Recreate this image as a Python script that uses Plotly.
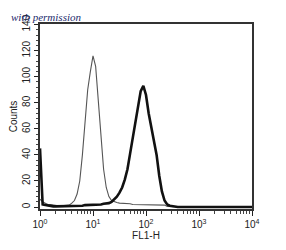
import plotly.graph_objects as go

# bin positions in decades (log10 of FL1-H)
exponents = [0.00, 0.05, 0.10, 0.15, 0.20, 0.25, 0.30, 0.35, 0.40, 0.45,
             0.50, 0.55, 0.60, 0.65, 0.70, 0.75, 0.80, 0.85, 0.90, 0.95,
             1.00, 1.05, 1.10, 1.15, 1.20, 1.25, 1.30, 1.35, 1.40, 1.45,
             1.50, 1.55, 1.60, 1.65, 1.70, 1.75, 1.80, 1.85, 1.90, 1.95,
             2.00, 2.05, 2.10, 2.15, 2.20, 2.25, 2.30, 2.35, 2.40, 2.45,
             2.50, 2.55, 2.60, 2.65, 2.70, 2.75, 2.80, 2.85, 2.90, 2.95,
             3.00, 3.05, 3.10, 3.15, 3.20, 3.25, 3.30, 3.35, 3.40, 3.45,
             3.50, 3.55, 3.60, 3.65, 3.70, 3.75, 3.80, 3.85, 3.90, 3.95,
             4.00]

control_counts = [6, 4, 3, 2, 2, 1.5, 1.5, 1, 1, 1,
                  1, 1.5, 3, 5, 10, 20, 40, 62, 90, 104,
                  116, 108, 82, 52, 29, 15, 8, 5, 4, 3.5,
                  3, 3, 3, 2.5, 2.5, 2, 2, 2, 2, 2,
                  2, 2, 2, 1.5, 1.5, 1.5, 1.5, 1.5, 0.5, 0.3,
                  0.3, 0.2, 0.2, 0.2, 0.2, 0.2, 0.2, 0.2, 0.2, 0.2,
                  0.2, 0.2, 0.2, 0.2, 0.2, 0.2, 0.2, 0.2, 0.2, 0.2,
                  0.2, 0.2, 0.2, 0.2, 0.2, 0.2, 0.2, 0.2, 0.2, 0.2,
                  0.2]

stained_counts = [45, 2, 1.5, 1, 1, 0.5, 0.5, 0.5, 0.5, 0.5,
                  0.5, 1, 1, 1, 1, 1, 1, 1.5, 1.5, 1.5,
                  1.5, 2, 2, 2, 2.5, 2.5, 3, 4, 6, 8,
                  11, 15, 21, 29, 41, 53, 66, 79, 89, 93,
                  86, 72, 62, 52, 40, 24, 12, 5, 2, 1,
                  0.5, 0, 0, 0, 0, 0, 0, 0, 0, 0,
                  0, 0, 0, 0, 0, 0, 0, 0, 0, 0,
                  0, 0, 0, 0, 0, 0, 0, 0, 0, 0,
                  0]

x_tick_vals = [1, 10, 100, 1000, 10000]
x_tick_text = ["10<sup>0</sup>", "10<sup>1</sup>", "10<sup>2</sup>",
               "10<sup>3</sup>", "10<sup>4</sup>"]
y_tick_vals = [0, 20, 40, 60, 80, 100, 120, 140]

fl1 = [10 ** e for e in exponents]

fig = go.Figure()
fig.add_trace(go.Scatter(x=fl1, y=control_counts, mode="lines",
                         line=dict(color="#555555", width=1.1),
                         showlegend=False, hoverinfo="skip"))
fig.add_trace(go.Scatter(x=fl1, y=stained_counts, mode="lines",
                         line=dict(color="#111111", width=2.6),
                         showlegend=False, hoverinfo="skip"))

axis_font = dict(family="Liberation Sans, Arial, sans-serif", size=10, color="#222222")

fig.update_xaxes(type="log", range=[0, 4],
                 tickvals=x_tick_vals, ticktext=x_tick_text,
                 ticks="outside", ticklen=5, tickwidth=1, tickcolor="#222222",
                 minor=dict(ticks="outside", ticklen=3, tickcolor="#444444",
                            dtick="D1", showgrid=False),
                 showline=True, linecolor="#333333", linewidth=1.5, mirror=True,
                 showgrid=False, zeroline=False, tickfont=axis_font,
                 title=dict(text="FL1-H", font=axis_font, standoff=1))
fig.update_yaxes(range=[-1.5, 140.5], tickvals=y_tick_vals,
                 ticks="outside", ticklen=4, tickwidth=1, tickcolor="#222222",
                 minor=dict(ticks="outside", ticklen=2, tickcolor="#444444",
                            dtick=4, showgrid=False),
                 tickangle=-90,
                 showline=True, linecolor="#333333", linewidth=1.5, mirror=True,
                 showgrid=False, zeroline=False, tickfont=axis_font,
                 title=dict(text="Counts", font=axis_font, standoff=2))

fig.add_annotation(text="with permission", xref="paper", yref="paper",
                   x=-0.145, y=1.04, xanchor="left", yanchor="middle",
                   showarrow=False,
                   font=dict(family="Liberation Serif, serif", size=11,
                             color="#1c2b6e", style="italic"))

fig.update_layout(width=286, height=250,
                  margin=dict(l=40, r=34, t=24, b=41),
                  paper_bgcolor="white", plot_bgcolor="white")

fig.write_html("out.html")
